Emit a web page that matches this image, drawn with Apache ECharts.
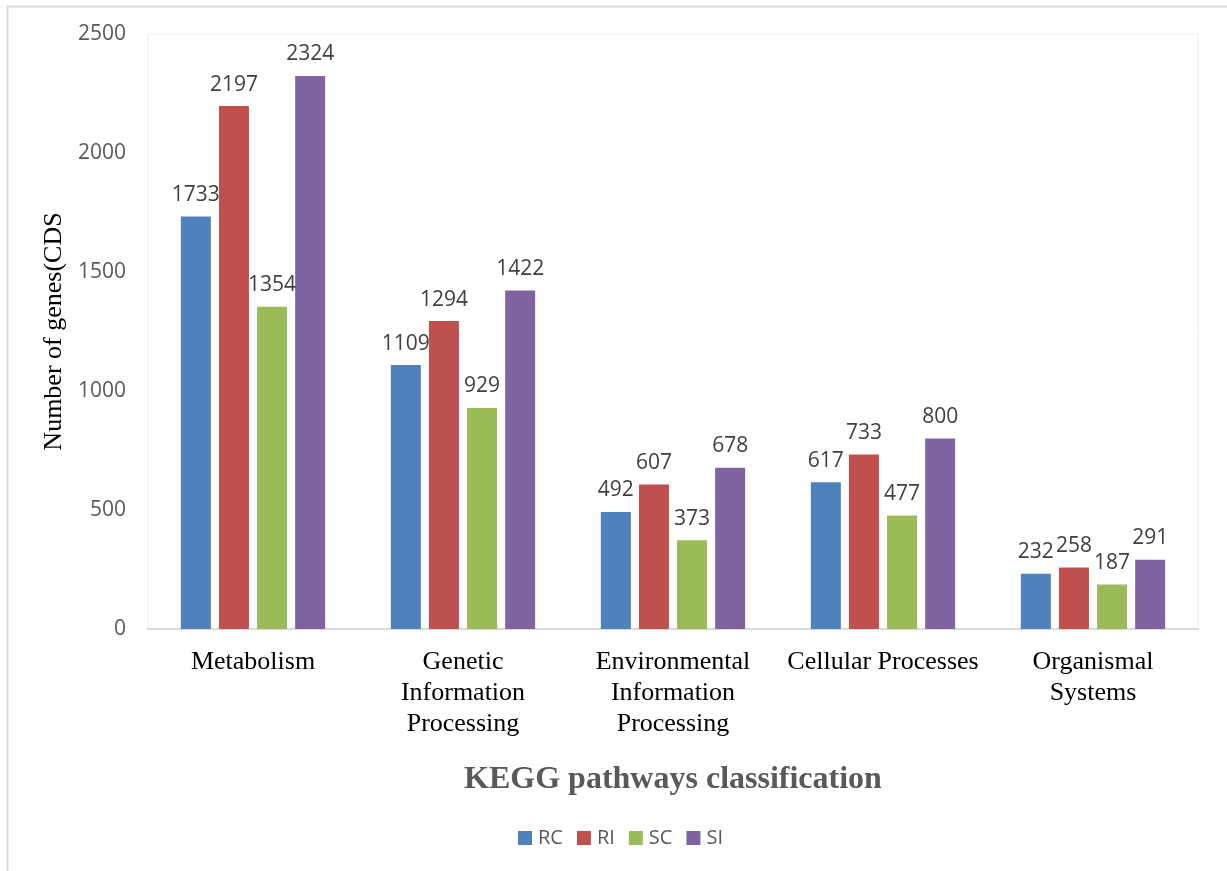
<!DOCTYPE html>
<html>
<head>
<meta charset="utf-8">
<script src="https://cdn.jsdelivr.net/npm/echarts@6/dist/echarts.min.js"></script>
<style>
  html, body { margin: 0; padding: 0; background: #ffffff; }
  #chart { width: 1227px; height: 871px; }
</style>
</head>
<body>
<div id="chart"></div>
<script>
// KEGG pathway classes and gene counts per sample
const categories = [
  'Metabolism',
  'Genetic\nInformation\nProcessing',
  'Environmental\nInformation\nProcessing',
  'Cellular Processes',
  'Organismal\nSystems'
];
const seriesNames = ['RC', 'RI', 'SC', 'SI'];
const rcValues = [1733, 1109, 492, 617, 232];
const riValues = [2197, 1294, 607, 733, 258];
const scValues = [1354, 929, 373, 477, 187];
const siValues = [2324, 1422, 678, 800, 291];
const seriesColors = ['#4F81BD', '#C0504D', '#9BBB59', '#8064A2'];
const yTicks = [0, 500, 1000, 1500, 2000, 2500];

const valueSets = [rcValues, riValues, scValues, siValues];

const chart = echarts.init(document.getElementById('chart'), null, { renderer: 'canvas' });

const series = seriesNames.map((name, i) => ({
  name: name,
  type: 'bar',
  data: valueSets[i],
  barWidth: 30,
  barGap: '27%',
  itemStyle: { color: seriesColors[i] },
  label: {
    show: true,
    position: 'top',
    distance: 11,
    fontFamily: 'Open Sans',
    fontSize: 21,
    color: '#404040'
  }
}));

chart.setOption({
  animation: false,
  backgroundColor: '#ffffff',
  graphic: [{
    type: 'rect',
    left: 5,
    top: 4,
    shape: { width: 1221, height: 900 },
    style: { fill: 'none', stroke: '#d9d9d9', lineWidth: 2 },
    silent: true
  }],
  grid: {
    left: 148,
    right: 29,
    top: 34,
    bottom: 242,
    show: true,
    borderColor: '#efeee6',
    borderWidth: 1,
    backgroundColor: 'transparent'
  },
  legend: {
    data: seriesNames,
    left: 518,
    top: 828,
    padding: 0,
    icon: 'rect',
    itemWidth: 14,
    itemHeight: 14,
    itemGap: 14,
    textStyle: { fontFamily: 'Open Sans', fontSize: 20, color: '#595959', padding: [0, 0, 0, 1] }
  },
  xAxis: {
    type: 'category',
    data: categories,
    name: 'KEGG pathways classification',
    nameLocation: 'middle',
    nameGap: 135,
    nameTextStyle: {
      fontFamily: 'Liberation Serif',
      fontSize: 32,
      fontWeight: 'bold',
      color: '#595959'
    },
    axisLine: { show: true, lineStyle: { color: '#d9d9d9', width: 2 } },
    axisTick: { show: false },
    axisLabel: {
      interval: 0,
      margin: 18,
      fontFamily: 'Liberation Serif',
      fontSize: 26,
      lineHeight: 31,
      color: '#000000'
    }
  },
  yAxis: {
    type: 'value',
    min: 0,
    max: 2500,
    interval: 500,
    name: 'Number of genes(CDS',
    nameLocation: 'middle',
    nameGap: 80,
    nameRotate: 90,
    nameTextStyle: {
      fontFamily: 'Liberation Serif',
      fontSize: 26,
      color: '#000000'
    },
    axisLine: { show: false },
    axisTick: { show: false },
    splitLine: { show: false },
    axisLabel: {
      margin: 22,
      fontFamily: 'Open Sans',
      fontSize: 21,
      color: '#595959',
      formatter: v => (yTicks.includes(v) ? String(v) : '')
    }
  },
  series: series
});
</script>
</body>
</html>
